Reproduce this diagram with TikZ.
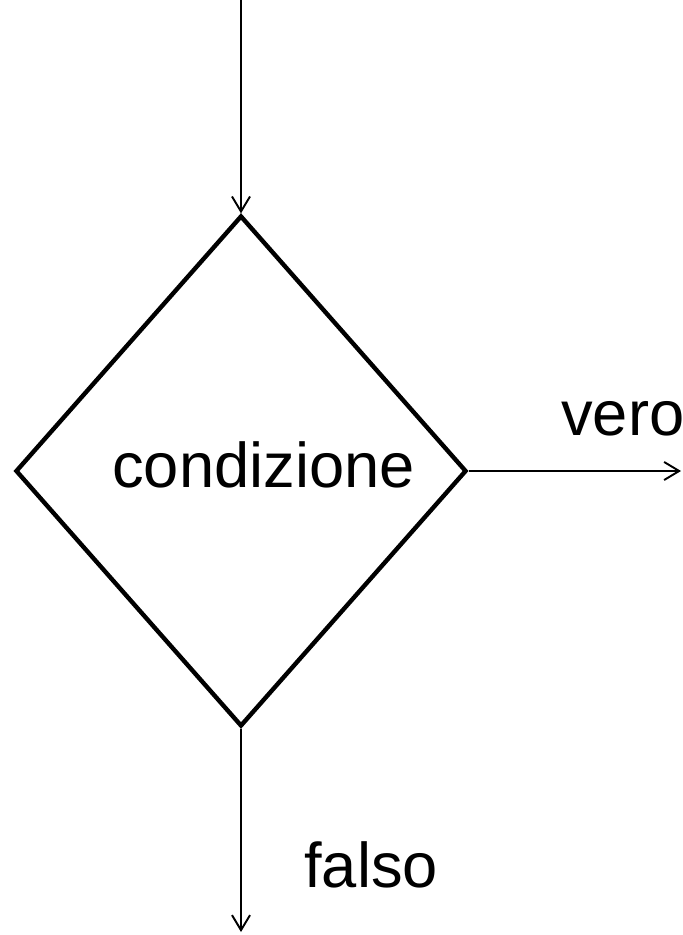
\documentclass[tikz,border=0pt]{standalone}
\usepackage{fontspec}
\setmainfont{Liberation Sans}
\usetikzlibrary{shapes.geometric,arrows.meta}

\begin{document}
\begin{tikzpicture}[
    x=0.02cm, y=-0.02cm,
    decision/.style={diamond, draw, line width=2.5pt, inner sep=0pt, minimum width=9.02cm, minimum height=10.22cm},
    lbl/.style={anchor=base west, inner sep=0pt, font=\fontsize{36}{43}\selectfont},
    flow/.style={-{Straight Barb[length=0.3cm, width=0.36cm, line width=1.1pt]}, line width=1.1pt}
]
    \useasboundingbox (0,0) rectangle (682,935);

    \coordinate (in) at (241,0);
    \node[decision] (cond) at (241,471) {};
    \node[lbl] (testo) at (112,487) {condizione};
    \coordinate (outtrue) at (681,471);
    \coordinate (outfalse) at (241,932);
    \node[lbl] (vero) at (561,435) {vero};
    \node[lbl] (falso) at (304,887) {falso};

    \draw[flow] (in) -- (cond.north);
    \draw[flow] (cond.east) -- (outtrue);
    \draw[flow] (cond.south) -- (outfalse);
\end{tikzpicture}
\end{document}
